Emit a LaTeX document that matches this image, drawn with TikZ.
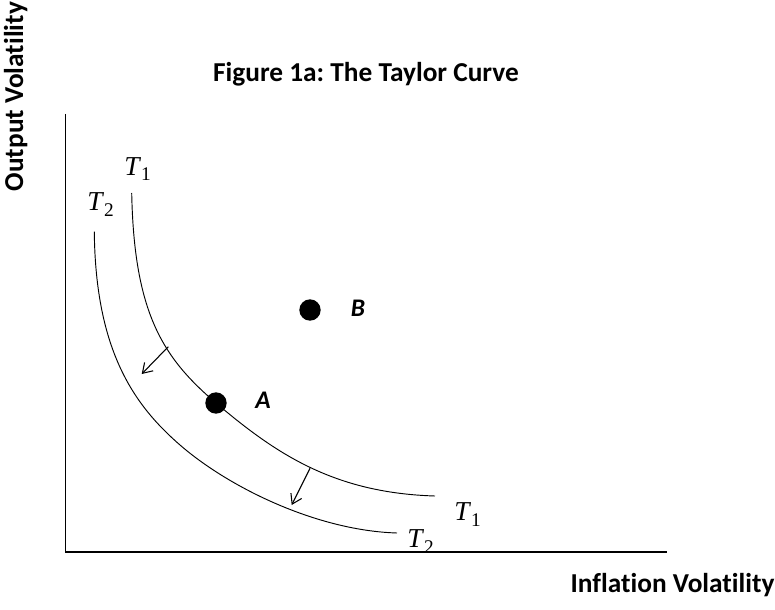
\documentclass[tikz,border=0pt]{standalone}
\usepackage{fontspec}
\setmainfont{Carlito}[Ligatures=NoCommon]
\newfontfamily\tnr{Liberation Serif}
\usetikzlibrary{arrows.meta}
\frenchspacing
\newcommand{\tsub}[1]{\textit{T}\raisebox{-4.5pt}{\fontsize{14.5}{15}\selectfont #1}}
\begin{document}
\begin{tikzpicture}[x=0.75pt,y=-0.75pt,
  curve/.style={line width=0.7pt},
  axis/.style={line width=1pt},
  shiftarrow/.style={line width=0.8pt,-{Straight Barb[length=7pt,width=9pt]}},
  dot/.style={circle,fill=black,inner sep=0pt,minimum size=16pt},
  biglabel/.style={font=\fontsize{20.5}{24}\selectfont\bfseries,inner sep=0pt},
  ptlabel/.style={font=\fontsize{19}{22}\selectfont\bfseries\itshape,inner sep=0pt},
  tlabel/.style={font=\tnr\fontsize{20.5}{22}\selectfont,inner sep=0pt,anchor=base west}]
\useasboundingbox (0,0) rectangle (775,610);
% axes
\coordinate (ytop) at (65.5,114);
\coordinate (orig) at (65.5,552);
\coordinate (xend) at (667,552);
\draw[axis] (ytop) -- (orig) -- (xend);
% curves
\coordinate (t1s) at (131.7,193);
\coordinate (t1m) at (216,403);
\coordinate (t1e) at (435,496);
\coordinate (t2s) at (94.3,231.7);
\coordinate (t2m) at (180,445);
\coordinate (t2e) at (397,533);
\draw[curve] (t1s) .. controls (134.1,313) and (162.7,357.6) .. (t1m)
                   .. controls (277,454.8) and (335,493) .. (t1e);
\draw[curve] (t2s) .. controls (95.5,351.7) and (134.7,405.6) .. (t2m)
                   .. controls (229.1,487.6) and (317,530.6) .. (t2e);
% shift arrows
\coordinate (a1s) at (168.3,346.7);
\coordinate (a1e) at (141.7,374);
\coordinate (a2s) at (310,468.3);
\coordinate (a2e) at (291.7,505);
\draw[shiftarrow] (a1s) -- (a1e);
\draw[shiftarrow] (a2s) -- (a2e);
% curve labels
\node[tlabel] (t1top) at (124,175) {\tsub{1}};
\node[tlabel] (t2top) at (87,210.7) {\tsub{2}};
\node[tlabel] (t1bot) at (454,520) {\tsub{1}};
\node[tlabel] (t2bot) at (407,547.3) {\tsub{2}};
% points
\node[dot] (A) at (216,403) {};
\node[dot] (B) at (310,310) {};
\node[ptlabel] (Alab) at (263,400.5) {A};
\node[ptlabel] (Blab) at (358,308) {B};
% titles
\node[biglabel,anchor=base] (title) at (366,82) {Figure 1a: The Taylor Curve};
\node[biglabel,anchor=base] (xlab) at (672.5,592) {Inflation Volatility};
\node[biglabel,rotate=90,anchor=base] (ylab) at (23,96.7) {Output Volatility};
\end{tikzpicture}
\end{document}
